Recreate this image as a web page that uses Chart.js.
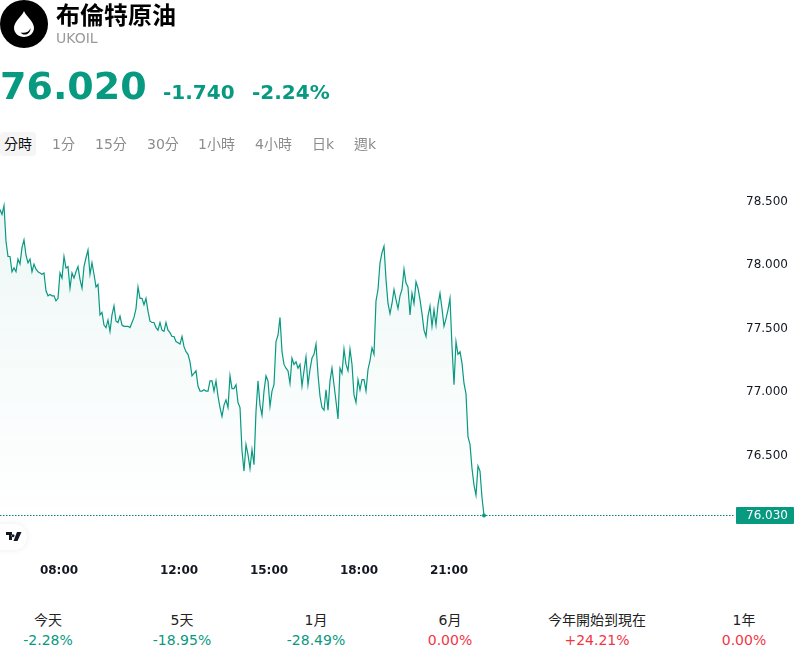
<!DOCTYPE html>
<html><head><meta charset="utf-8">
<script src="https://cdn.jsdelivr.net/npm/chart.js@4"></script>
<style>
html,body{margin:0;padding:0;background:#fff;width:800px;height:660px;overflow:hidden;font-family:"DejaVu Sans","Noto Sans CJK TC",sans-serif}
.abs{position:absolute;white-space:nowrap}
#chartWrap{position:absolute;left:0;top:0;width:800px;height:600px}
.tab{position:absolute;top:132px;height:24px;line-height:24px;font-size:14px;color:#8c8c8c}
.tab.on{color:#111;background:#f5f5f5;border-radius:4px;padding:0 4px}
.stat{position:absolute;transform:translateX(-50%);text-align:center;white-space:nowrap;top:610px;font-size:14px;line-height:20px;color:#222}
.stat b{display:block;font-weight:400}
</style></head><body>
<div id="chartWrap"><canvas id="c" width="800" height="600"></canvas></div>

<svg class="abs" style="left:0;top:0" width="48" height="48" viewBox="0 0 48 48">
<circle cx="24" cy="24" r="24" fill="#000"/>
<path d="M24 11C21.5 17 14 21.5 14 28C14 33 18.5 37 24 37C29.5 37 34 33 34 28C34 21.5 26.5 17 24 11Z" fill="#fff"/>
<path d="M20.5 32.4C25 33.6 29 32 30.4 28.2C31 31.8 27.5 34.8 24.6 34.6C23 34.5 21.6 33.6 20.5 32.4Z" fill="#000"/>
</svg>
<div class="abs" style="left:56px;top:0;font-size:24px;line-height:32px;font-weight:700;color:#000">布倫特原油</div>
<div class="abs" style="left:56px;top:29px;font-size:14px;line-height:18px;color:#999">UKOIL</div>
<div class="abs" style="left:0;top:62px;font-size:38px;line-height:48px;font-weight:700;color:#089981">76.020</div>
<div class="abs" style="left:163px;top:79px;font-size:20px;line-height:26px;font-weight:700;color:#089981">-1.740</div>
<div class="abs" style="left:252px;top:79px;font-size:20px;line-height:26px;font-weight:700;color:#089981">-2.24%</div>
<div id="tabs"></div>
<div id="stats"></div>
<div class="abs" style="left:-10px;top:524px;width:37px;height:26px;border-radius:13px;background:#fff;box-shadow:0 0 6px rgba(0,0,0,.08)"></div>
<svg class="abs" style="left:6px;top:532px" width="16" height="10" viewBox="0 0 16 10">
<path d="M0 0H6V8H3V3H0Z M7 2.2a1.5 1.5 0 1 0 .01 0Z M11 0H15.5L11.5 9H7.5Z" fill="#131722"/>
</svg>

<script>
const priceValues = [
78.44,78.40,78.47,78.19,78.07,78.07,77.95,77.98,77.95,78.05,78.01,78.14,78.20,78.08,78.02,78.05,77.95,78.01,77.97,77.95,
77.94,77.93,77.94,77.80,77.76,77.77,77.76,77.76,77.72,77.74,77.94,77.90,78.07,77.98,77.99,77.82,77.94,77.90,77.95,77.99,
77.89,77.82,77.99,78.06,78.12,77.93,78.02,77.93,77.83,77.85,77.61,77.63,77.53,77.51,77.57,77.48,77.61,77.68,77.56,77.55,
77.60,77.53,77.52,77.52,77.52,77.51,77.55,77.59,77.66,77.83,77.74,77.74,77.69,77.74,77.64,77.56,77.55,77.55,77.51,77.49,
77.55,77.49,77.48,77.55,77.49,77.47,77.44,77.44,77.40,77.39,77.38,77.44,77.36,77.32,77.30,77.24,
77.13,77.15,77.17,77.05,77.01,77.01,77.02,77.01,77.01,77.09,77.09,77.01,77.09,76.97,76.88,76.81,76.90,76.94,76.88,77.13,
77.03,77.03,77.06,76.92,76.88,76.54,76.38,76.59,76.51,76.40,76.55,76.43,76.85,77.09,76.90,76.82,77.01,77.13,77.09,76.89,
77.01,77.06,77.40,77.45,77.59,
77.32,77.22,77.19,77.17,77.07,77.27,77.22,77.24,77.19,77.22,77.05,77.17,77.28,77.06,77.18,77.27,77.30,77.38,77.14,76.97,
76.88,76.86,77.02,76.86,77.09,77.19,77.06,76.93,76.79,77.19,77.15,77.34,77.22,77.17,77.34,77.22,76.98,76.92,77.10,77.02,
77.10,77.10,77.01,77.18,77.25,77.35,77.30,77.72,
77.81,78.02,78.10,78.15,77.89,77.70,77.62,77.70,77.81,77.73,77.66,77.76,77.81,77.97,77.86,77.83,77.61,77.78,77.70,77.87,
77.82,77.73,77.62,77.49,77.44,77.60,77.68,77.52,77.65,77.53,77.69,77.78,77.66,77.52,77.58,77.65,77.74,77.36,77.06,77.40,
77.30,77.32,77.23,77.07,76.99,
76.65,76.59,76.40,76.27,76.19,76.42,76.38,76.17,76.03];
const lastPrice = 76.03;
const startMinute = 362;      // first sample 06:02
const stepMinutes = 4;
const axisEndMinute = 1832;
const timeTicks = [480,720,900,1080,1260];
const priceTicks = [76.5,77,77.5,78,78.5];
const tabLabels = ["分時","1分","15分","30分","1小時","4小時","日k","週k"];
const tabLefts = [0,52,95,147,198,255,312,354];
const statLabels = ["今天","5天","1月","6月","今年開始到現在","1年"];
const statValues = ["-2.28%","-18.95%","-28.49%","0.00%","+24.21%","0.00%"];
const statCenters = [48,182,316,450,597,744];
const UP="#f23645", DOWN="#089981";

tabLabels.forEach((t,i)=>{const d=document.createElement('div');d.className='tab'+(i===0?' on':'');d.textContent=t;d.style.left=tabLefts[i]+'px';document.getElementById('tabs').appendChild(d);});
statLabels.forEach((t,i)=>{const d=document.createElement('div');d.className='stat';d.style.left=statCenters[i]+'px';
 const v=statValues[i];const col=v.startsWith('-')?DOWN:UP;
 d.innerHTML=t+'<b style="color:'+col+'">'+v+'</b>';document.getElementById('stats').appendChild(d);});

const hhmm=m=>String(Math.floor(m/60)).padStart(2,'0')+':'+String(m%60).padStart(2,'0');
const series=priceValues.map((p,i)=>({x:startMinute+i*stepMinutes,y:p}));
const lastLine=[{x:startMinute,y:lastPrice},{x:axisEndMinute,y:lastPrice}];

const edgePlugin={id:'edge',afterLayout(ch){
 const x=ch.scales.x,a=ch.chartArea,r=x.right;
 x.left=0;x.width=r;x.configure();
 a.left=0;a.width=a.right;
}};
const tagPlugin={id:'tag',afterDraw(ch){const c=ch.ctx,y=ch.scales.y.getPixelForValue(lastPrice);
 c.save();c.fillStyle=DOWN;c.beginPath();c.roundRect(736,Math.round(y)-9,58,17,1);c.fill();
 c.fillStyle='#fff';c.font='12px "DejaVu Sans"';c.textAlign='left';c.textBaseline='middle';
 c.fillText(lastPrice.toFixed(3),746,Math.round(y));c.restore();}};

new Chart(document.getElementById('c'),{
 type:'line',
 data:{datasets:[
  {data:lastLine,borderColor:'#0b7f6d',borderWidth:1,borderDash:[1.5,1.5],pointRadius:0,fill:false,order:2},
  {data:series,borderColor:DOWN,borderWidth:1.2,tension:0,
   pointRadius:c=>c.dataIndex===priceValues.length-1?2:0,pointBackgroundColor:DOWN,pointBorderWidth:0,
   fill:'start',order:1,
   backgroundColor:c=>{const a=c.chart.chartArea;if(!a)return 'transparent';
    const g=c.chart.ctx.createLinearGradient(0,200,0,516);
    g.addColorStop(0,'rgba(8,153,129,0.07)');g.addColorStop(1,'rgba(8,153,129,0)');return g;}}
 ]},
 options:{responsive:false,animation:false,parsing:false,normalized:true,
  layout:{padding:{top:170,left:0,right:0,bottom:0}},
  plugins:{legend:{display:false},tooltip:{enabled:false}},
  scales:{
   x:{type:'linear',min:startMinute,max:axisEndMinute,grid:{display:false},border:{display:false},
     afterBuildTicks:s=>{s.ticks=timeTicks.map(v=>({value:v}));},
     afterFit:s=>{s.height=70;},
     ticks:{autoSkip:false,maxRotation:0,padding:26,color:'#131722',font:{family:'"DejaVu Sans"',size:12,weight:'700'},callback:v=>hhmm(v)}},
   y:{position:'right',min:75.916,max:78.751,grid:{display:false},border:{display:false},
     afterBuildTicks:s=>{s.ticks=priceTicks.map(v=>({value:v}));},
     afterFit:s=>{s.width=65;},
     ticks:{padding:3,crossAlign:'near',color:'#131722',font:{family:'"DejaVu Sans"',size:12},callback:v=>Number(v).toFixed(3)}}
  }},
 plugins:[edgePlugin,tagPlugin]
});
</script>
</body></html>
